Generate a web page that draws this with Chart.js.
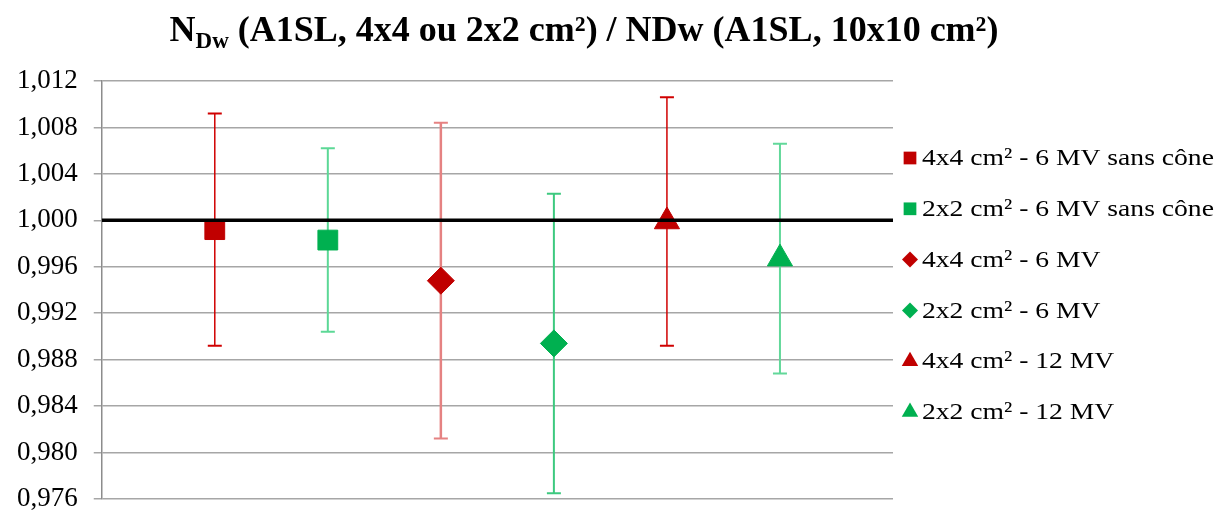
<!DOCTYPE html>
<html>
<head>
<meta charset="utf-8">
<script src="https://cdn.jsdelivr.net/npm/chart.js@4.4.1/dist/chart.umd.min.js"></script>
<style>
  html, body { margin: 0; padding: 0; background: #ffffff; overflow: hidden; }
  #wrap { position: relative; width: 1218px; height: 511px; overflow: hidden; }
  #title {
    position: absolute; left: 0; top: 8px; width: 1168px; text-align: center;
    font-family: "Liberation Serif", "Times New Roman", serif; font-weight: bold;
    font-size: 36px; line-height: 42px; color: #000; white-space: nowrap;
  }
  #title sub { font-size: 23px; vertical-align: -7px; line-height: 0; }
  #c { position: absolute; left: 0; top: 0; }
</style>
</head>
<body>
<div id="wrap">
  <canvas id="c" width="1218" height="542"></canvas>
  <div id="title">N<sub>Dw</sub> (A1SL, 4x4 ou 2x2 cm²) / NDw (A1SL, 10x10 cm²)</div>
</div>
<script>
// ---- data ----
const seriesLabels = [
  '4x4 cm² - 6 MV sans cône',
  '2x2 cm² - 6 MV sans cône',
  '4x4 cm² - 6 MV',
  '2x2 cm² - 6 MV',
  '4x4 cm² - 12 MV',
  '2x2 cm² - 12 MV'
];
const xPositions = [1, 2, 3, 4, 5, 6];
const ratioValues = [0.9992, 0.9983, 0.9948, 0.9894, 0.9999, 0.9967];
const errorValues = [0.0100, 0.0079, 0.0136, 0.0129, 0.0107, 0.0099];
const yTickValues = [0.976, 0.980, 0.984, 0.988, 0.992, 0.996, 1.000, 1.004, 1.008, 1.012];
const referenceValue = 1.000;
const xRange = [0, 7];

// ---- styles ----
const markerColors = ['#C00000', '#00B050', '#C00000', '#00B050', '#C00000', '#00B050'];
const errorColors = ['#D00000', '#5CD896', '#E58282', '#3DC97F', '#D00000', '#62D89A'];
const errorWidths = [1.5, 2, 2.5, 2, 1.5, 2];
const markerStyles = ['rect', 'rect', 'rectRot', 'rectRot', 'triangle', 'triangle'];
const markerRadii = [14, 14, 13.5, 13.5, 14.5, 14.5];
const legendRadii = [9, 9, 8, 8, 9.5, 9.5];
const legendLayout = { x: 910, textGap: 12, top: 158, step: 50.8, fontSize: 24, stretch: 1.15 };

const serif = '"Liberation Serif", "Times New Roman", serif';

const datasets = [];
// reference line at 1.000 (drawn on top)
datasets.push({
  label: '__ref',
  type: 'line',
  data: [{ x: xRange[0], y: referenceValue }, { x: xRange[1], y: referenceValue }],
  borderColor: '#000000',
  borderWidth: 3.5,
  pointRadius: 0,
  order: 0
});
// markers
seriesLabels.forEach((lab, i) => {
  datasets.push({
    label: lab,
    type: 'scatter',
    data: [{ x: xPositions[i], y: ratioValues[i] }],
    backgroundColor: markerColors[i],
    borderColor: markerColors[i],
    pointStyle: markerStyles[i],
    pointRadius: markerRadii[i],
    pointBorderWidth: 1,
    order: 1
  });
});
// error bars (behind markers)
seriesLabels.forEach((lab, i) => {
  datasets.push({
    label: '__err' + i,
    type: 'line',
    data: [
      { x: xPositions[i], y: ratioValues[i] - errorValues[i] },
      { x: xPositions[i], y: ratioValues[i] + errorValues[i] }
    ],
    borderColor: errorColors[i],
    borderWidth: errorWidths[i],
    pointStyle: 'line',
    pointRadius: 7,
    pointBorderColor: errorColors[i],
    pointBorderWidth: 2,
    order: 2
  });
});

// Legend on the right, drawn with Chart.js point helpers and canvas text
const sideLegend = {
  id: 'sideLegend',
  afterDraw(chart) {
    const ctx = chart.ctx;
    const L = legendLayout;
    ctx.save();
    seriesLabels.forEach((lab, i) => {
      const y = L.top + i * L.step;
      ctx.fillStyle = markerColors[i];
      ctx.strokeStyle = markerColors[i];
      if (Chart.helpers && Chart.helpers.drawPoint) {
        Chart.helpers.drawPoint(ctx, { pointStyle: markerStyles[i], radius: legendRadii[i], rotation: 0, borderWidth: 0 }, L.x, y);
      }
      ctx.save();
      ctx.translate(L.x + L.textGap, y);
      ctx.scale(L.stretch, 1);
      ctx.fillStyle = '#000000';
      ctx.font = L.fontSize + 'px ' + serif;
      ctx.textAlign = 'left';
      ctx.textBaseline = 'middle';
      ctx.fillText(lab, 0, 1);
      ctx.restore();
    });
    ctx.restore();
  }
};

new Chart(document.getElementById('c'), {
  type: 'scatter',
  data: { datasets },
  plugins: [sideLegend],
  options: {
    responsive: false,
    animation: false,
    events: [],
    layout: { padding: { top: 81, left: 1, right: 325, bottom: 43 } },
    plugins: {
      title: { display: false },
      tooltip: { enabled: false },
      legend: { display: false }
    },
    scales: {
      x: {
        type: 'linear',
        min: xRange[0],
        max: xRange[1],
        display: false
      },
      y: {
        type: 'linear',
        min: yTickValues[0],
        max: yTickValues[yTickValues.length - 1],
        afterBuildTicks: (axis) => { axis.ticks = yTickValues.map(v => ({ value: v })); },
        ticks: {
          callback: (v) => Number(v).toFixed(3).replace('.', ','),
          color: '#000000',
          padding: 16,
          font: { family: serif, size: 27 }
        },
        grid: {
          color: '#A6A6A6',
          lineWidth: 1.5,
          tickLength: 8,
          drawTicks: true
        },
        border: { display: true, color: '#8C8C8C', width: 1.5 }
      }
    }
  }
});
</script>
</body>
</html>
